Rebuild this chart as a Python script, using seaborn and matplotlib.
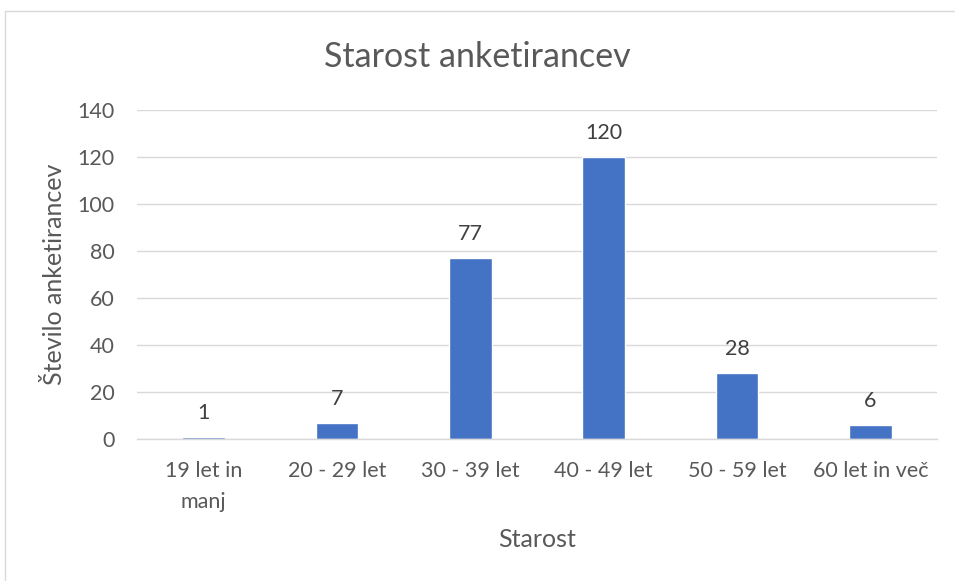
import matplotlib
matplotlib.use("Agg")
import matplotlib.pyplot as plt
from matplotlib.lines import Line2D
import seaborn as sns
import pandas as pd

categories = ["19 let in\nmanj", "20 - 29 let", "30 - 39 let", "40 - 49 let", "50 - 59 let", "60 let in več"]
values = [1, 7, 77, 120, 28, 6]
yticks = [0, 20, 40, 60, 80, 100, 120, 140]

sns.set_theme(style="white")
plt.rcParams['font.family'] = ['Lato', 'DejaVu Sans']

df = pd.DataFrame({"cat": categories, "val": values})

fig = plt.figure(figsize=(9.55, 5.81), dpi=100)
ax = fig.add_axes([137/955, 1-439/581, (937-137)/955, (439-110)/581])

sns.barplot(data=df, x="cat", y="val", color="#4472C4", width=0.32, ax=ax, saturation=1)

ax.set_ylim(0, 140)
ax.set_yticks(yticks)
ax.set_yticklabels([str(t) for t in yticks], fontsize=15.5, color="#595959")
ax.tick_params(axis='x', labelsize=15.5, colors="#595959", length=0, pad=16)
ax.tick_params(axis='y', length=0, pad=16)
for lbl in ax.get_xticklabels():
    lbl.set_linespacing(1.65)
ax.yaxis.grid(True, color="#D9D9D9", linewidth=1)
ax.set_axisbelow(True)
for s in ["top", "right", "left"]:
    ax.spines[s].set_visible(False)
ax.spines["bottom"].set_color("#D9D9D9")
ax.spines["bottom"].set_linewidth(1)

for i, v in enumerate(values):
    ax.annotate(str(v), (i, v), xytext=(0, 10), textcoords="offset points",
                ha="center", va="bottom", fontsize=15.5, color="#404040")

ax.set_xlabel("Starost", fontsize=18, color="#595959", labelpad=12)
ax.set_ylabel("Število anketirancev", fontsize=18, color="#595959", labelpad=8)
fig.suptitle("Starost anketirancev", y=1-57/581, va="center", fontsize=24.5, color="#595959")

fig.lines.append(Line2D([5/955, 5/955], [0, 1-11/581], transform=fig.transFigure, color="#D9D9D9", linewidth=1))
fig.lines.append(Line2D([5/955, 1], [1-11/581, 1-11/581], transform=fig.transFigure, color="#D9D9D9", linewidth=1))

fig.savefig("out.png", dpi=100, facecolor="white")
